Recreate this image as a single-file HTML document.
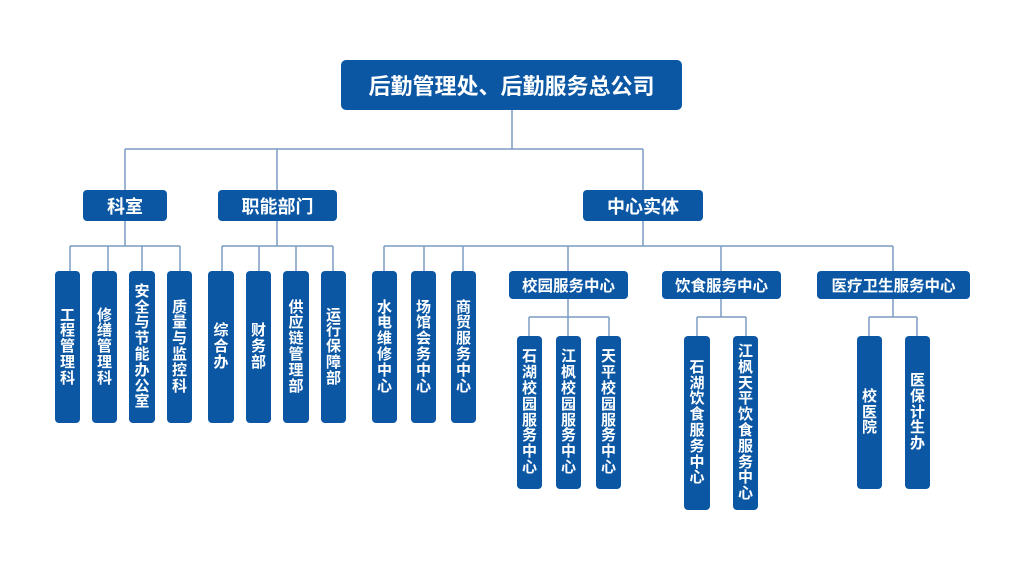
<!DOCTYPE html>
<html>
<head>
<meta charset="utf-8">
<style>
  html,body{margin:0;padding:0;background:#fff;}
  body{width:1024px;height:576px;position:relative;overflow:hidden;
    font-family:"Liberation Sans","Noto Sans CJK SC","WenQuanYi Zen Hei",sans-serif;}
  .b{position:absolute;background:#0b57a4;color:#fff;font-weight:bold;border-radius:4px;
    display:flex;align-items:center;justify-content:center;box-sizing:border-box;white-space:nowrap;}
  .v{font-size:15px;line-height:15.8px;text-align:center;flex-direction:column;}
  .v span{display:block;height:15.8px;}
  svg{position:absolute;left:0;top:0;}
</style>
</head>
<body>
<svg width="1024" height="576" viewBox="0 0 1024 576">
  <g stroke="#7a9cc2" stroke-width="1.5" fill="none">
    <!-- top -->
    <line x1="512" y1="110" x2="512" y2="149"/>
    <line x1="125" y1="149" x2="643" y2="149"/>
    <line x1="125" y1="149" x2="125" y2="190"/>
    <line x1="277" y1="149" x2="277" y2="190"/>
    <line x1="643" y1="149" x2="643" y2="190"/>
    <!-- 科室 -->
    <line x1="125" y1="221" x2="125" y2="246"/>
    <line x1="70" y1="246" x2="180" y2="246"/>
    <line x1="70" y1="246" x2="70" y2="271"/>
    <line x1="108" y1="246" x2="108" y2="271"/>
    <line x1="142" y1="246" x2="142" y2="271"/>
    <line x1="180" y1="246" x2="180" y2="271"/>
    <!-- 职能部门 -->
    <line x1="277" y1="221" x2="277" y2="246"/>
    <line x1="222" y1="246" x2="333" y2="246"/>
    <line x1="222" y1="246" x2="222" y2="271"/>
    <line x1="259" y1="246" x2="259" y2="271"/>
    <line x1="296" y1="246" x2="296" y2="271"/>
    <line x1="333" y1="246" x2="333" y2="271"/>
    <!-- 中心实体 -->
    <line x1="643" y1="221" x2="643" y2="246"/>
    <line x1="384" y1="246" x2="893" y2="246"/>
    <line x1="384" y1="246" x2="384" y2="271"/>
    <line x1="424" y1="246" x2="424" y2="271"/>
    <line x1="463" y1="246" x2="463" y2="271"/>
    <line x1="568" y1="246" x2="568" y2="271"/>
    <line x1="721" y1="246" x2="721" y2="271"/>
    <line x1="893" y1="246" x2="893" y2="271"/>
    <!-- 校园 -->
    <line x1="568" y1="299" x2="568" y2="317"/>
    <line x1="529" y1="317" x2="609" y2="317"/>
    <line x1="529" y1="317" x2="529" y2="336"/>
    <line x1="568" y1="317" x2="568" y2="336"/>
    <line x1="609" y1="317" x2="609" y2="336"/>
    <!-- 饮食 -->
    <line x1="721" y1="299" x2="721" y2="317"/>
    <line x1="697" y1="317" x2="746" y2="317"/>
    <line x1="697" y1="317" x2="697" y2="336"/>
    <line x1="746" y1="317" x2="746" y2="336"/>
    <!-- 医疗 -->
    <line x1="893" y1="299" x2="893" y2="317"/>
    <line x1="869" y1="317" x2="917" y2="317"/>
    <line x1="869" y1="317" x2="869" y2="336"/>
    <line x1="917" y1="317" x2="917" y2="336"/>
  </g>
</svg>

<!-- top -->
<div class="b" style="left:341px;top:60px;width:341px;height:50px;font-size:22px;border-radius:5px;">后勤管理处、后勤服务总公司</div>

<!-- level 1 -->
<div class="b" style="left:83px;top:190px;width:84px;height:31px;font-size:18px;">科室</div>
<div class="b" style="left:218px;top:190px;width:119px;height:31px;font-size:18px;">职能部门</div>
<div class="b" style="left:583px;top:190px;width:120px;height:31px;font-size:18px;">中心实体</div>

<!-- 科室 children -->
<div class="b v" style="left:55px;top:271px;width:25px;height:152px;"><span>工</span><span>程</span><span>管</span><span>理</span><span>科</span></div>
<div class="b v" style="left:92px;top:271px;width:25px;height:152px;"><span>修</span><span>缮</span><span>管</span><span>理</span><span>科</span></div>
<div class="b v" style="left:129px;top:271px;width:26px;height:152px;"><span>安</span><span>全</span><span>与</span><span>节</span><span>能</span><span>办</span><span>公</span><span>室</span></div>
<div class="b v" style="left:167px;top:271px;width:25px;height:152px;"><span>质</span><span>量</span><span>与</span><span>监</span><span>控</span><span>科</span></div>

<!-- 职能 children -->
<div class="b v" style="left:208px;top:271px;width:26px;height:152px;"><span>综</span><span>合</span><span>办</span></div>
<div class="b v" style="left:246px;top:271px;width:25px;height:152px;"><span>财</span><span>务</span><span>部</span></div>
<div class="b v" style="left:283px;top:271px;width:26px;height:152px;"><span>供</span><span>应</span><span>链</span><span>管</span><span>理</span><span>部</span></div>
<div class="b v" style="left:321px;top:271px;width:25px;height:152px;"><span>运</span><span>行</span><span>保</span><span>障</span><span>部</span></div>

<!-- 中心实体 children -->
<div class="b v" style="left:372px;top:271px;width:25px;height:152px;"><span>水</span><span>电</span><span>维</span><span>修</span><span>中</span><span>心</span></div>
<div class="b v" style="left:411px;top:271px;width:25px;height:152px;"><span>场</span><span>馆</span><span>会</span><span>务</span><span>中</span><span>心</span></div>
<div class="b v" style="left:451px;top:271px;width:25px;height:152px;"><span>商</span><span>贸</span><span>服</span><span>务</span><span>中</span><span>心</span></div>

<div class="b" style="left:509px;top:271px;width:119px;height:28px;font-size:15.5px;">校园服务中心</div>
<div class="b" style="left:662px;top:271px;width:119px;height:28px;font-size:15.5px;">饮食服务中心</div>
<div class="b" style="left:817px;top:271px;width:153px;height:28px;font-size:15.5px;">医疗卫生服务中心</div>

<!-- 校园 children -->
<div class="b v" style="left:517px;top:336px;width:25px;height:153px;"><span>石</span><span>湖</span><span>校</span><span>园</span><span>服</span><span>务</span><span>中</span><span>心</span></div>
<div class="b v" style="left:556px;top:336px;width:25px;height:153px;"><span>江</span><span>枫</span><span>校</span><span>园</span><span>服</span><span>务</span><span>中</span><span>心</span></div>
<div class="b v" style="left:596px;top:336px;width:25px;height:153px;"><span>天</span><span>平</span><span>校</span><span>园</span><span>服</span><span>务</span><span>中</span><span>心</span></div>

<!-- 饮食 children -->
<div class="b v" style="left:684px;top:336px;width:26px;height:174px;"><span>石</span><span>湖</span><span>饮</span><span>食</span><span>服</span><span>务</span><span>中</span><span>心</span></div>
<div class="b v" style="left:733px;top:336px;width:25px;height:174px;"><span>江</span><span>枫</span><span>天</span><span>平</span><span>饮</span><span>食</span><span>服</span><span>务</span><span>中</span><span>心</span></div>

<!-- 医疗 children -->
<div class="b v" style="left:857px;top:336px;width:25px;height:153px;"><span>校</span><span>医</span><span>院</span></div>
<div class="b v" style="left:905px;top:336px;width:25px;height:153px;"><span>医</span><span>保</span><span>计</span><span>生</span><span>办</span></div>

</body>
</html>
